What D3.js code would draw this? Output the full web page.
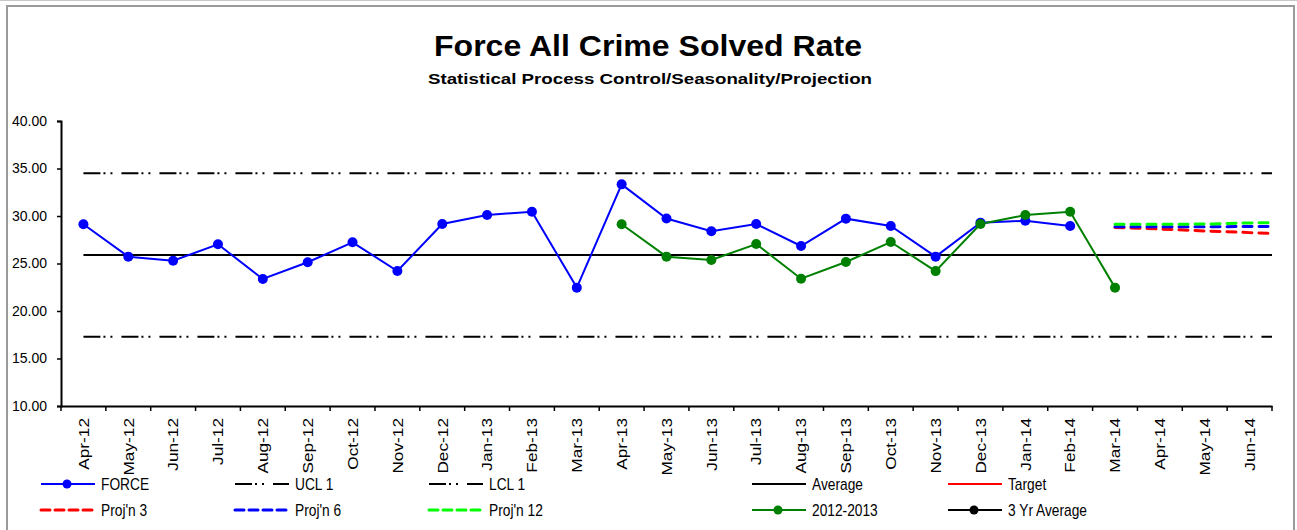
<!DOCTYPE html>
<html>
<head>
<meta charset="utf-8">
<script src="https://cdn.jsdelivr.net/npm/d3@7"></script>
<style>
  body { margin: 0; background: #fff; }
  text { font-family: "Liberation Sans", Arial, sans-serif; fill: #000; }
</style>
</head>
<body>
<svg id="chart" width="1297" height="530"></svg>
<script>
// categories on the axis
var months = ["Apr-12","May-12","Jun-12","Jul-12","Aug-12","Sep-12","Oct-12","Nov-12","Dec-12","Jan-13","Feb-13","Mar-13",
  "Apr-13","May-13","Jun-13","Jul-13","Aug-13","Sep-13","Oct-13","Nov-13","Dec-13","Jan-14","Feb-14","Mar-14",
  "Apr-14","May-14","Jun-14"];
// one month past the axis, the lines run on to it and get clipped
var extraMonths = ["Jul-14"];

var forceMonths = months.slice(0, 23);
var forceValues = [29.13,25.72,25.29,27.02,23.37,25.13,27.23,24.21,29.16,30.10,30.45,22.46,
  33.33,29.74,28.39,29.16,26.84,29.72,28.95,25.72,29.30,29.50,28.95];

var priorMonths = months.slice(12, 24);
var priorValues = [29.13,25.72,25.37,27.05,23.40,25.16,27.26,24.20,29.16,30.10,30.45,22.46];

var projMonths = ["Mar-14","Apr-14","May-14","Jun-14","Jul-14"];
var proj3Values = [28.80,28.63,28.43,28.25,28.07];
var proj6Values = [28.88,28.87,28.87,28.89,28.92];
var proj12Values = [29.13,29.13,29.15,29.27,29.33];

var limitMonths = ["Apr-12","Jul-14"];
var uclValues = [34.49,34.49];
var lclValues = [17.29,17.29];
var avgValues = [25.89,25.89];
var targetValues = [];
var threeYrValues = [];

var yTicks = [10,15,20,25,30,35,40];

var svg = d3.select("#chart");
var plot = {left: 61, right: 1272, top: 121, bottom: 406};

// frame
svg.append("line").attr("x1", 0).attr("x2", 1297).attr("y1", 0.5).attr("y2", 0.5)
  .attr("stroke", "#c8c8c8").attr("stroke-width", 1);
svg.append("rect").attr("x", 7).attr("y", 6).attr("width", 1287).attr("height", 540)
  .attr("fill", "none").attr("stroke", "#9a9a9a").attr("stroke-width", 2);

var x = d3.scaleBand().domain(months).range([plot.left, plot.right]);
var allMonths = months.concat(extraMonths);
var xc = function(m) { return plot.left + (allMonths.indexOf(m) + 0.5) * x.step(); };
var y = d3.scaleLinear().domain([10, 40]).range([plot.bottom, plot.top]);

// titles
svg.append("text").attr("x", 648).attr("y", 56).attr("text-anchor", "middle")
  .attr("font-size", 29.5).attr("font-weight", "bold")
  .attr("textLength", 428).attr("lengthAdjust", "spacingAndGlyphs")
  .text("Force All Crime Solved Rate");
svg.append("text").attr("x", 650).attr("y", 84).attr("text-anchor", "middle")
  .attr("font-size", 15.5).attr("font-weight", "bold")
  .attr("textLength", 444).attr("lengthAdjust", "spacingAndGlyphs")
  .text("Statistical Process Control/Seasonality/Projection");

// y axis
var yAxis = svg.append("g").attr("transform", "translate(" + plot.left + ",0)")
  .call(d3.axisLeft(y).tickValues(yTicks).tickFormat(d3.format(".2f")).tickSize(4).tickPadding(10));
yAxis.select(".domain").attr("stroke", "#000").attr("stroke-width", 2);
yAxis.selectAll(".tick line").attr("stroke", "#000").attr("stroke-width", 1.5);
yAxis.selectAll(".tick text").attr("font-size", 14).attr("font-family", "Liberation Sans, Arial, sans-serif");

// x axis
var xAxis = svg.append("g").attr("transform", "translate(0," + plot.bottom + ")")
  .call(d3.axisBottom(x).tickSize(0).tickSizeOuter(0));
xAxis.select(".domain").attr("stroke", "#000").attr("stroke-width", 2);
xAxis.selectAll(".tick text")
  .attr("font-size", 15).attr("font-family", "Liberation Sans, Arial, sans-serif")
  .attr("text-anchor", "end").attr("y", 0).attr("x", 0).attr("dy", "0.35em")
  .attr("transform", "translate(0,12) rotate(-90) scale(1.15,1)");
var bounds = months.map(function(m) { return x(m); }).concat([plot.right]);
xAxis.selectAll(".bound").data(bounds).enter().append("line")
  .attr("x1", function(d) { return d; }).attr("x2", function(d) { return d; })
  .attr("y1", 0).attr("y2", 5).attr("stroke", "#000").attr("stroke-width", 1.5);

svg.append("clipPath").attr("id", "plotclip").append("rect")
  .attr("x", plot.left).attr("y", plot.top - 10).attr("width", plot.right - plot.left).attr("height", plot.bottom - plot.top + 10);
var g = svg.append("g").attr("clip-path", "url(#plotclip)");

var line = d3.line().x(function(d) { return xc(d[0]); }).y(function(d) { return y(d[1]); });
var dashDot = "17,3,2,5,2,9";

function series(ms, vs, color, width, dash, cap) {
  var pts = d3.zip(ms, vs);
  g.append("path").datum(pts).attr("d", line).attr("fill", "none")
    .attr("stroke", color).attr("stroke-width", width)
    .attr("stroke-dasharray", dash || null).attr("stroke-linecap", cap || "butt");
  return pts;
}

series(limitMonths, uclValues, "#000", 2, dashDot);
series(limitMonths, lclValues, "#000", 2, dashDot);
series(limitMonths, avgValues, "#000", 2);
series(projMonths, proj3Values, "#ff0000", 3, "9,7", "round");
series(projMonths, proj6Values, "#0000ff", 3, "9,7", "round");
series(projMonths, proj12Values, "#00ff00", 3, "9,7", "round");

var forcePts = series(forceMonths, forceValues, "#0000ff", 2);
var priorPts = series(priorMonths, priorValues, "#008000", 2);
g.selectAll(".fdot").data(forcePts).enter().append("circle")
  .attr("cx", function(d) { return xc(d[0]); }).attr("cy", function(d) { return y(d[1]); })
  .attr("r", 5).attr("fill", "#0000ff");
g.selectAll(".pdot").data(priorPts).enter().append("circle")
  .attr("cx", function(d) { return xc(d[0]); }).attr("cy", function(d) { return y(d[1]); })
  .attr("r", 5).attr("fill", "#008000");

// legend
var legendCols = [40, 234, 428, 751, 947];
var legendRows = [484, 510];
var legendItems = [
  {name: "FORCE", color: "#0000ff", width: 2, marker: true},
  {name: "UCL 1", color: "#000", width: 2, dash: dashDot},
  {name: "LCL 1", color: "#000", width: 2, dash: dashDot},
  {name: "Average", color: "#000", width: 2},
  {name: "Target", color: "#ff0000", width: 2},
  {name: "Proj'n 3", color: "#ff0000", width: 3, dash: "9,5", cap: "round"},
  {name: "Proj'n 6", color: "#0000ff", width: 3, dash: "9,5", cap: "round"},
  {name: "Proj'n 12", color: "#00ff00", width: 3, dash: "9,5", cap: "round"},
  {name: "2012-2013", color: "#008000", width: 2, marker: true},
  {name: "3 Yr Average", color: "#000", width: 2, marker: true}
];
var leg = svg.append("g").selectAll("g").data(legendItems).enter().append("g")
  .attr("transform", function(d, i) {
    return "translate(" + legendCols[i % 5] + "," + legendRows[Math.floor(i / 5)] + ")";
  });
leg.append("line").attr("x1", 1).attr("x2", 55).attr("y1", 0).attr("y2", 0)
  .attr("stroke", function(d) { return d.color; })
  .attr("stroke-width", function(d) { return d.width; })
  .attr("stroke-dasharray", function(d) { return d.dash || null; })
  .attr("stroke-linecap", function(d) { return d.cap || "butt"; });
leg.filter(function(d) { return d.marker; }).append("circle")
  .attr("cx", 27).attr("cy", 0).attr("r", 4.5).attr("fill", function(d) { return d.color; });
leg.append("text").attr("transform", "translate(61,5.5) scale(0.86,1)")
  .attr("font-size", 16).text(function(d) { return d.name; });
</script>
</body>
</html>
